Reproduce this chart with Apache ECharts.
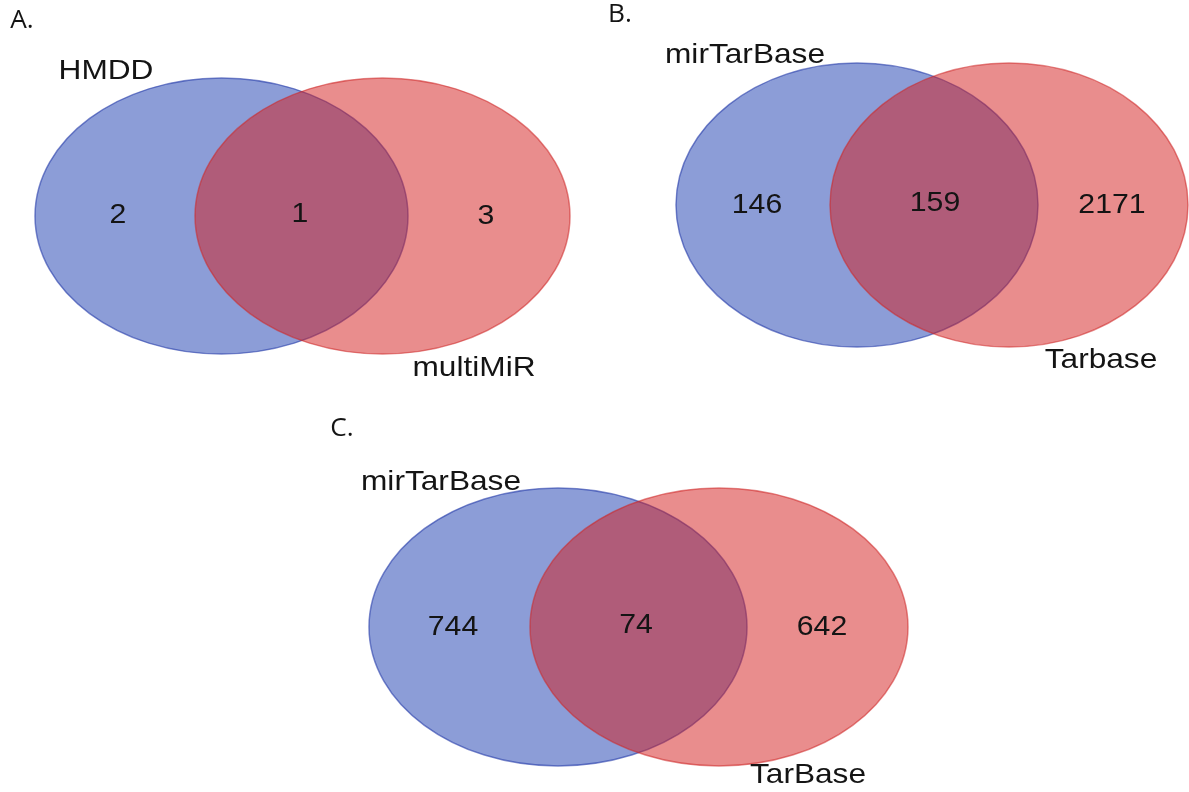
<!DOCTYPE html>
<html>
<head>
<meta charset="utf-8">
<script src="https://cdn.jsdelivr.net/npm/echarts@6/dist/echarts.min.js"></script>
<style>
  html, body { margin: 0; padding: 0; background: #ffffff; }
  #chart { width: 1189px; height: 792px; }
</style>
</head>
<body>
<div id="chart"></div>
<script>
// Panel tags and the two sets compared in each Venn diagram
const panelTags = ['A.', 'B.', 'C.'];
const leftSets = ['HMDD', 'mirTarBase', 'mirTarBase'];
const rightSets = ['multiMiR', 'Tarbase', 'TarBase'];

// Counts per region: only in the left set, shared, only in the right set
const leftOnly = [2, 146, 744];
const shared = [1, 159, 74];
const rightOnly = [3, 2171, 642];

// Placement of each diagram on the page (x to the right, y downwards)
const frames = [
  {
    tag: [22, 21],
    left: { cx: 221.5, cy: 216, rx: 186.5, ry: 138 },
    right: { cx: 382.5, cy: 216, rx: 187.5, ry: 138 },
    counts: [[118, 215], [300, 214], [486, 216]],
    leftName: [106, 71],
    rightName: [474, 368]
  },
  {
    tag: [620, 15],
    left: { cx: 857, cy: 205, rx: 181, ry: 142 },
    right: { cx: 1009, cy: 205, rx: 179, ry: 142 },
    counts: [[757, 205], [935, 203], [1112, 205]],
    leftName: [745, 55],
    rightName: [1101, 360]
  },
  {
    tag: [342, 429],
    left: { cx: 558, cy: 627, rx: 189, ry: 139 },
    right: { cx: 719, cy: 627, rx: 189, ry: 139 },
    counts: [[453, 627], [636, 625], [822, 627]],
    leftName: [441, 482],
    rightName: [808, 775]
  }
];

const FONT = '"Liberation Sans", Arial, Helvetica, sans-serif';
const TAG_FONT = '"Open Sans", "Noto Sans", sans-serif';

const chart = echarts.init(document.getElementById('chart'), null, { renderer: 'canvas' });

function ellipseEl(api, e, fill, stroke) {
  const c = api.coord([e.cx, e.cy]);
  const s = api.size([e.rx, e.ry]);
  return {
    type: 'ellipse',
    shape: { cx: c[0], cy: c[1], rx: s[0], ry: s[1] },
    style: { fill: fill, stroke: stroke, lineWidth: 1.5 }
  };
}

function textEl(api, pos, text, size, family, sx) {
  const p = api.coord(pos);
  return {
    type: 'text',
    x: p[0],
    y: p[1],
    scaleX: sx,
    style: {
      text: String(text),
      fontSize: size,
      fontFamily: family,
      fill: '#141414',
      align: 'center',
      verticalAlign: 'middle'
    }
  };
}

function renderVenn(params, api) {
  const i = api.value(0);
  const f = frames[i];
  const children = [
    ellipseEl(api, f.left, 'rgba(26, 60, 176, 0.5)', 'rgba(40, 62, 170, 0.6)'),
    ellipseEl(api, f.right, 'rgba(212, 28, 28, 0.5)', 'rgba(205, 40, 40, 0.55)'),
    textEl(api, f.counts[0], leftOnly[i], 28, FONT, 1.08),
    textEl(api, f.counts[1], shared[i], 28, FONT, 1.08),
    textEl(api, f.counts[2], rightOnly[i], 28, FONT, 1.08),
    textEl(api, f.leftName, leftSets[i], 28, FONT, 1.13),
    textEl(api, f.rightName, rightSets[i], 28, FONT, 1.13),
    textEl(api, f.tag, panelTags[i], 25, TAG_FONT, 1.05)
  ];
  return { type: 'group', children: children };
}

chart.setOption({
  animation: false,
  backgroundColor: '#ffffff',
  grid: { left: 0, right: 0, top: 0, bottom: 0 },
  xAxis: { type: 'value', min: 0, max: 1189, show: false },
  yAxis: { type: 'value', min: 0, max: 792, inverse: true, show: false },
  series: [{
    type: 'custom',
    coordinateSystem: 'cartesian2d',
    clip: false,
    renderItem: renderVenn,
    encode: { x: 0, y: 1 },
    data: panelTags.map((t, i) => [i, 0])
  }]
});
</script>
</body>
</html>
